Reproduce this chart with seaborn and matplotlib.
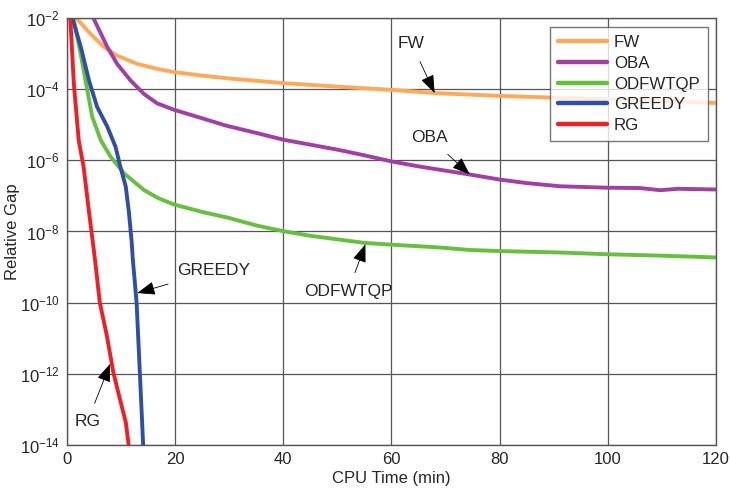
import numpy as np
import pandas as pd
import matplotlib
matplotlib.use("Agg")
import matplotlib.pyplot as plt
import seaborn as sns

# ---- data (log10 of relative gap) ----
fw_x = [1.6, 1.9, 4.4, 6.9, 9.3, 13, 16.7, 19.8, 25, 30, 40, 50, 60, 68, 80, 90, 100, 110, 120]
fw_y = [-1.97, -2.03, -2.45, -2.82, -3.06, -3.29, -3.43, -3.52, -3.62, -3.70, -3.83, -3.93, -4.02,
        -4.11, -4.19, -4.24, -4.28, -4.33, -4.39]

oba_x = [4.8, 5.0, 7.5, 9.3, 11.8, 14.3, 16.7, 19.8, 24.6, 29.3, 35, 40, 45, 50, 55, 60, 65, 70.8,
         74.5, 80, 85, 91.2, 100, 106, 109.7, 113, 120]
oba_y = [-1.97, -2.03, -2.82, -3.29, -3.76, -4.14, -4.40, -4.58, -4.80, -5.02, -5.23, -5.42, -5.56,
         -5.7, -5.86, -6.03, -6.17, -6.31, -6.4, -6.54, -6.64, -6.73, -6.77, -6.78, -6.84, -6.80, -6.82]

odf_x = [1.0, 1.6, 2.9, 3.8, 4.7, 6.3, 8.1, 10.6, 14.3, 17.0, 19.8, 25, 30, 35, 40, 45, 50, 55, 60,
         69, 74.5, 80, 91, 100, 110, 120]
odf_y = [-1.9, -2.26, -3.29, -4.04, -4.78, -5.44, -5.9, -6.37, -6.84, -7.07, -7.24, -7.45, -7.62,
         -7.83, -7.99, -8.12, -8.22, -8.32, -8.37, -8.45, -8.52, -8.55, -8.59, -8.64, -8.68, -8.73]

gr_x = [0.8, 1.0, 2.6, 4.1, 5.6, 7.5, 9.0, 9.9, 10.9, 11.5, 12.0, 12.2, 12.9, 13.5, 14.1, 14.2]
gr_y = [-1.9, -2.0, -2.82, -3.76, -4.5, -5.06, -5.62, -6.18, -6.74, -7.49, -8.31, -8.78, -10.0,
        -11.96, -13.96, -14.2]

rg_x = [0.6, 1.3, 2.2, 3.1, 4.1, 5.2, 6.1, 7.4, 8.6, 9.8, 10.9, 11.4, 11.5]
rg_y = [-1.9, -3.85, -5.44, -6.18, -7.45, -8.78, -10.0, -10.93, -11.96, -12.7, -13.36, -13.96, -14.2]

methods = ["FW", "OBA", "ODFWTQP", "GREEDY", "RG"]
colors = ["#FCAA5A", "#A23FA4", "#66BF3F", "#2F4FA6", "#EE1F26"]

x_ticks = [0, 20, 40, 60, 80, 100, 120]
y_exps = [-14, -12, -10, -8, -6, -4, -2]

series = {"FW": (fw_x, fw_y), "OBA": (oba_x, oba_y), "ODFWTQP": (odf_x, odf_y),
          "GREEDY": (gr_x, gr_y), "RG": (rg_x, rg_y)}
frames = []
for m in methods:
    xs, ys = series[m]
    frames.append(pd.DataFrame({"CPU Time (min)": xs,
                                "Relative Gap": 10.0 ** np.array(ys),
                                "Method": m}))
df = pd.concat(frames, ignore_index=True)

sns.set_style("white")
plt.rcParams["font.family"] = ["Liberation Sans", "DejaVu Sans"]
plt.rcParams["mathtext.fontset"] = "custom"
plt.rcParams["mathtext.rm"] = "Liberation Sans"
plt.rcParams["mathtext.it"] = "Liberation Sans"

fig = plt.figure(figsize=(7.31, 4.92), dpi=100)
ax = fig.add_axes([0.0914, 0.0955, 0.888, 0.868])

sns.lineplot(data=df, x="CPU Time (min)", y="Relative Gap", hue="Method",
             hue_order=methods, palette=colors, estimator=None, lw=2.8, ax=ax)

ax.set_yscale("log")
ax.set_xlim(0, 120)
ax.set_ylim(1e-14, 1e-2)
ax.set_xticks(x_ticks)
ax.set_xticklabels([str(t) for t in x_ticks])
ax.set_yticks([10.0 ** e for e in y_exps])
ax.set_yticklabels([r"$10^{%d}$" % e for e in y_exps])
ax.yaxis.set_minor_locator(matplotlib.ticker.NullLocator())
ax.tick_params(axis="both", labelsize=12, length=0, pad=5)
ax.grid(True, color="#555555", lw=0.9)
for s in ax.spines.values():
    s.set_color("#555555")
    s.set_linewidth(1.0)
ax.set_xlabel("CPU Time (min)", fontsize=12, labelpad=3)
ax.set_ylabel("Relative Gap", fontsize=12, labelpad=0)

leg = ax.legend(loc="upper right", bbox_to_anchor=(0.988, 0.979), borderaxespad=0,
                fontsize=12.2, handlelength=2.9, frameon=True, fancybox=False,
                borderpad=0.5, labelspacing=0.33, handletextpad=0.4)
leg.get_frame().set_edgecolor("#555555")
leg.get_frame().set_linewidth(1.0)
for line in leg.get_lines():
    line.set_linewidth(3.2)

ann = [("FW", (68.0, 10 ** -4.11), (63.7, 10 ** -2.71)),
       ("OBA", (74.5, 10 ** -6.40), (67.1, 10 ** -5.37)),
       ("ODFWTQP", (55.2, 10 ** -8.36), (52.0, 10 ** -9.68)),
       ("GREEDY", (13.0, 10 ** -9.73), (27.1, 10 ** -9.11)),
       ("RG", (8.0, 10 ** -11.72), (3.8, 10 ** -13.35))]
for label, xy, xytext in ann:
    ax.annotate(label, xy=xy, xytext=xytext, ha="center", va="center", fontsize=12.5,
                arrowprops=dict(arrowstyle="-|>,head_length=0.8,head_width=0.3",
                                color="black", lw=0.6, mutation_scale=14,
                                shrinkA=6, shrinkB=0))

fig.savefig("out.png", dpi=100)
